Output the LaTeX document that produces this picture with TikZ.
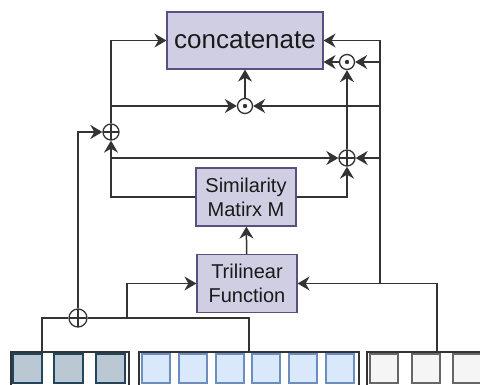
\documentclass[tikz,border=0pt]{standalone}
\usepackage{fontspec}
\setmainfont{Liberation Sans}
\usetikzlibrary{arrows.meta,calc}
\definecolor{Ink}{HTML}{1A1A1A}
\definecolor{Wire}{HTML}{333333}
\definecolor{OpFill}{HTML}{D0CEE2}
\definecolor{OpLine}{HTML}{56517E}
\definecolor{CtxFill}{HTML}{BAC8D3}
\definecolor{CtxLine}{HTML}{23445D}
\definecolor{QFill}{HTML}{DAE8FC}
\definecolor{QLine}{HTML}{6C8EBF}
\definecolor{KFill}{HTML}{F5F5F5}
\definecolor{KLine}{HTML}{666666}

\begin{document}
\begin{tikzpicture}[
        x=1pt, y=-1pt,
        every node/.style={font=\fontsize{20}{24}\selectfont, text=Ink},
        op/.style={draw=OpLine, fill=OpFill, line width=1.2pt, align=center, minimum width=100pt, minimum height=58pt, inner sep=0pt},
        flow/.style={-{Stealth[length=12pt,width=14pt,inset=4pt]}, line width=1.5pt, draw=Wire},
        wire/.style={line width=1.5pt, draw=Wire},
        addop/.style={circle, draw=Wire, line width=1.3pt, minimum size=16pt, inner sep=0pt,
            path picture={\draw[Wire, line width=1.3pt] (path picture bounding box.north) -- (path picture bounding box.south)
                (path picture bounding box.west) -- (path picture bounding box.east);}},
        mulop/.style={circle, draw=Wire, line width=1.3pt, minimum size=15pt, inner sep=0pt, path picture={\fill[Wire] (path picture bounding box.center) circle (2.2pt);}},
        group/.style={draw=Wire, line width=1.5pt, anchor=north west, minimum height=40pt, inner sep=0pt}
    ]
        \clip (0,0) rectangle (480,385);
        \useasboundingbox (0,0) rectangle (480,385);

        % blocks
        \node[op, minimum width=156pt, minimum height=57pt, font=\fontsize{26}{30}\selectfont] (concat) at (245,40.5) {concatenate};
        \node[op] (simm) at (246,197) {Similarity\\Matirx M};
        \node[op] (tri) at (247,283.5) {Trilinear\\Function};

        % operators
        \node[addop] (lplus) at (111,132) {};
        \node[addop] (rplus) at (347,158) {};
        \node[addop, minimum size=18pt] (bplus) at (78,318) {};
        \node[mulop] (modot) at (245,106) {};
        \node[mulop] (todot) at (347,62) {};

        % input groups
        \node[group, minimum width=118pt] (ctx) at (10,351) {};
        \node[group, minimum width=220pt] (qry) at (138,351) {};
        \node[group, minimum width=140pt] (key) at (366,351) {};
        \foreach \x in {13,54,96}
            \draw[fill=CtxFill, draw=CtxLine, line width=1.2pt] (\x,354) rectangle +(29,29);
        \foreach \x in {142,179,216,252,289,326}
            \draw[fill=QFill, draw=QLine, line width=1.2pt] (\x,354) rectangle +(28,29);
        \foreach \x in {370,412,453}
            \draw[fill=KFill, draw=KLine, line width=1.2pt] (\x,354) rectangle +(28,29);

        \coordinate (ctxtap) at (42,351);
        \coordinate (keytap) at (437,351);
        \coordinate (tritap) at (127,318);
        \coordinate (busb) at (380,283.5);
        \coordinate (bust) at (380,40.5);

        % bottom
        \draw[wire] (ctxtap) |- (bplus);
        \draw[wire] (bplus) -| (qry.north);
        \draw[flow] (tritap) |- (tri.west);
        \draw[flow] (keytap) |- (tri.east);
        \draw[flow] (bplus) |- (lplus);
        \draw[flow] (tri) -- (simm);

        % left side
        \draw[flow] (simm.west) -| (lplus);
        \draw[flow] (lplus |- rplus) -- (rplus);
        \draw[flow] (lplus |- modot) -- (modot);
        \draw[flow] (lplus) |- (concat.west);

        % right side
        \draw[wire] (busb) -- (bust);
        \draw[flow] (bust) -- (concat.east);
        \draw[flow] (bust |- todot) -- (todot);
        \draw[flow] (bust |- modot) -- (modot);
        \draw[flow] (bust |- rplus) -- (rplus);
        \draw[flow] (simm.east) -| (rplus);
        \draw[flow] (rplus) -- (todot);
        \draw[flow] (todot) -- (todot -| concat.east);
        \draw[flow] (modot) -- (concat);
    \end{tikzpicture}
\end{document}
